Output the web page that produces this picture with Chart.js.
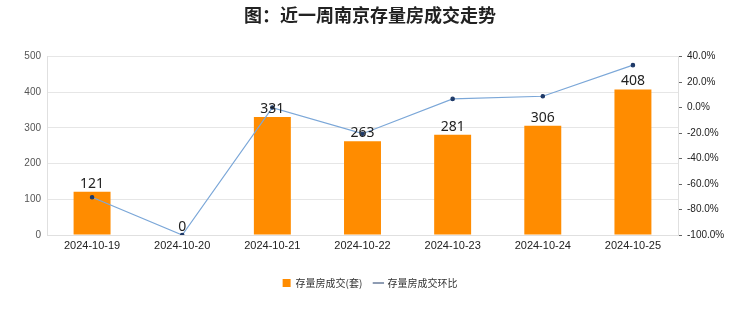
<!DOCTYPE html>
<html>
<head>
<meta charset="utf-8">
<script src="https://cdn.jsdelivr.net/npm/chart.js@4"></script>
<style>
  html, body { margin: 0; padding: 0; background: #fff; }
  #wrap { width: 740px; height: 312px; }
</style>
</head>
<body>
<div id="wrap"><canvas id="myChart" width="740" height="312"></canvas></div>
<script>
const dates = ["2024-10-19", "2024-10-20", "2024-10-21", "2024-10-22", "2024-10-23", "2024-10-24", "2024-10-25"];
const deals = [121, 0, 331, 263, 281, 306, 408]; // 套
const changeRate = [-70.4, -100, 0, -20.5, 6.8, 8.9, 33.3]; // %

// value labels above the bars
const barLabels = {
  id: "barLabels",
  afterDatasetsDraw(chart) {
    const ctx = chart.ctx;
    const meta = chart.getDatasetMeta(1);
    ctx.save();
    ctx.font = "14px 'Noto Sans', sans-serif";
    ctx.fillStyle = "#222";
    ctx.textAlign = "center";
    ctx.textBaseline = "bottom";
    meta.data.forEach((bar, i) => {
      ctx.fillText(String(deals[i]), bar.x, bar.y - 1);
    });
    ctx.restore();
  },
};

const chartEl = document.getElementById("myChart");
new Chart(chartEl, {
  data: {
    labels: dates,
    datasets: [
      {
        type: "line",
        label: "存量房成交环比",
        data: changeRate,
        yAxisID: "y1",
        borderColor: "#7ba7d8",
        borderWidth: 1.2,
        pointRadius: 1.7,
        pointBackgroundColor: "#1f3a68",
        pointBorderColor: "#1f3a68",
        tension: 0,
        order: 0,
      },
      {
        type: "bar",
        label: "存量房成交(套)",
        data: deals,
        yAxisID: "y",
        backgroundColor: "#ff8c00",
        barPercentage: 0.41,
        categoryPercentage: 1,
        order: 1,
      },
    ],
  },
  options: {
    responsive: false,
    animation: false,
    layout: { padding: { left: 0, right: 0, top: 0, bottom: 14 } },
    plugins: {
      title: {
        display: true,
        text: "图：近一周南京存量房成交走势",
        color: "#222",
        font: { size: 18, weight: "bold", family: "'Noto Sans CJK SC', sans-serif" },
        padding: { top: 4, bottom: 31 },
      },
      legend: {
        position: "bottom",
        reverse: true,
        labels: {
          color: "#333",
          font: { size: 10, family: "'Noto Sans CJK SC', sans-serif" },
          boxWidth: 8,
          boxHeight: 8,
          padding: 12,
          usePointStyle: true,
          generateLabels: (chart) => {
            const base = Chart.defaults.plugins.legend.labels.generateLabels(chart);
            return base.map((item) => {
              if (item.datasetIndex === 0) {
                item.pointStyle = "line";
                item.strokeStyle = "#1f3a68";
                item.lineWidth = 1;
              } else {
                item.pointStyle = "rect";
                item.fillStyle = "#ff8c00";
                item.strokeStyle = "#ff8c00";
              }
              return item;
            });
          },
        },
      },
      tooltip: { enabled: false },
    },
    scales: {
      x: {
        grid: { display: false, drawTicks: false },
        border: { color: "#e0e0e0" },
        ticks: { color: "#222", font: { size: 11 }, maxRotation: 0, padding: 4 },
        afterFit: (scale) => { scale.height = 31; },
      },
      y: {
        position: "left",
        min: 0,
        max: 500,
        ticks: { stepSize: 100, color: "#555", font: { size: 10 }, padding: 6 },
        grid: { color: "#e6e6e6", drawTicks: false },
        border: { color: "#e0e0e0" },
        afterFit: (scale) => { scale.width = 47; },
      },
      y1: {
        position: "right",
        min: -100,
        max: 40,
        ticks: {
          stepSize: 10,
          color: "#222",
          font: { size: 10 },
          padding: 5,
          callback: (v) => (Math.round(v) % 20 === 0 ? v.toFixed(1) + "%" : ""),
        },
        grid: { drawOnChartArea: false, tickLength: 4, color: "#666" },
        border: { color: "#e0e0e0" },
        afterFit: (scale) => { scale.width = 62; },
      },
    },
  },
  plugins: [barLabels],
});
</script>
</body>
</html>
